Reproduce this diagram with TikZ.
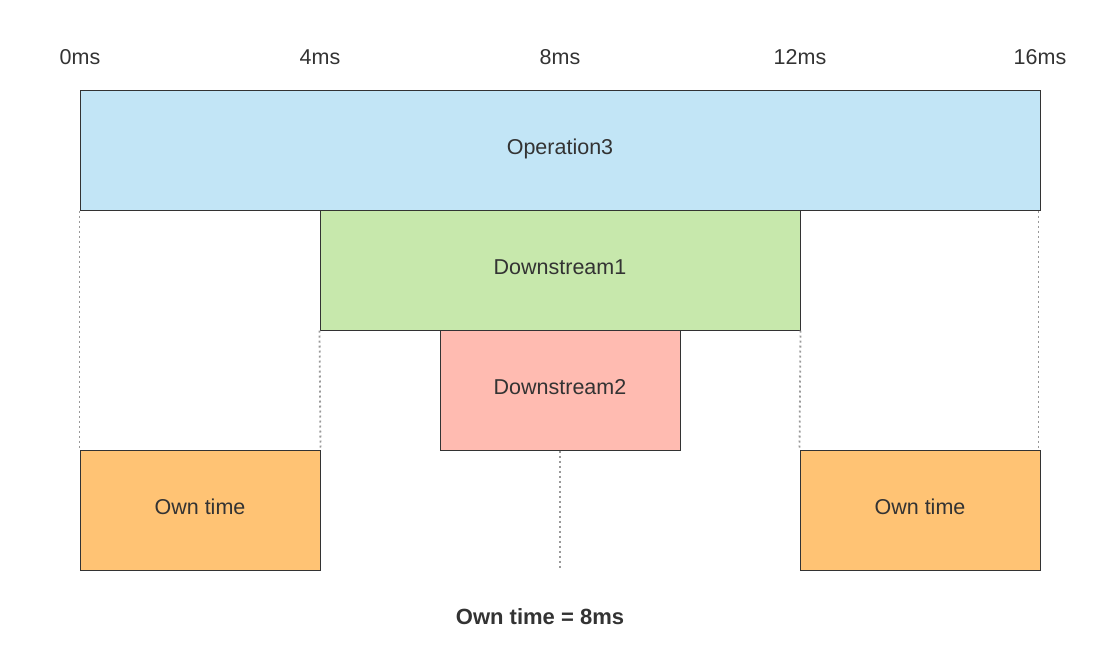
\documentclass[tikz,border=0pt]{standalone}
\usepackage{fontspec}
\setmainfont{Liberation Sans}
\begin{document}
\begin{tikzpicture}[x=1pt,y=-1pt,
  bar/.style={draw=linec,line width=1pt,inner sep=0pt,font=\fontsize{21.5}{24}\selectfont,text=textc,text height=16pt,text depth=7pt},
  tick/.style={font=\fontsize{21.5}{24}\selectfont,text=textc,inner sep=0pt},
  guide/.style={draw=guidec,line width=1.8pt,dash pattern=on 2pt off 3pt}]
\definecolor{linec}{HTML}{333333}
\definecolor{textc}{HTML}{333333}
\definecolor{guidec}{HTML}{999999}
\definecolor{opc}{HTML}{C2E5F6}
\definecolor{d1c}{HTML}{C7E8AC}
\definecolor{d2c}{HTML}{FFBBB1}
\definecolor{ownc}{HTML}{FFC374}
\useasboundingbox (0,0) rectangle (1120,670);
% ticks
\node[tick] (t0) at (80,57) {0ms};
\node[tick] (t4) at (320,57) {4ms};
\node[tick] (t8) at (560,57) {8ms};
\node[tick] (t12) at (800,57) {12ms};
\node[tick] (t16) at (1040,57) {16ms};
% bars
\node[bar,fill=opc,minimum width=960pt,minimum height=120pt] (op) at (560,150) {Operation3};
\node[bar,fill=d1c,minimum width=480pt,minimum height=120pt] (d1) at (560,270) {Downstream1};
\node[bar,fill=d2c,minimum width=240pt,minimum height=120pt] (d2) at (560,390) {Downstream2};
\node[bar,fill=ownc,minimum width=240pt,minimum height=120pt] (own1) at (200,510) {Own time};
\node[bar,fill=ownc,minimum width=240pt,minimum height=120pt] (own2) at (920,510) {Own time};
% guides
\draw[guide] (op.south west) -- (own1.north west);
\draw[guide] ([xshift=-2pt]op.south east) -- ([xshift=-2pt]own2.north east);
\draw[guide] (d1.south west) -- (own1.north east);
\draw[guide] (d1.south east) -- (own2.north west);
\coordinate (gend) at (560,569);
\draw[guide] (d2.south) -- (gend);
% total
\node[font=\bfseries\fontsize{22}{26}\selectfont,text=textc,inner sep=0pt] (total) at (540,617) {Own time = 8ms};
\end{tikzpicture}
\end{document}
